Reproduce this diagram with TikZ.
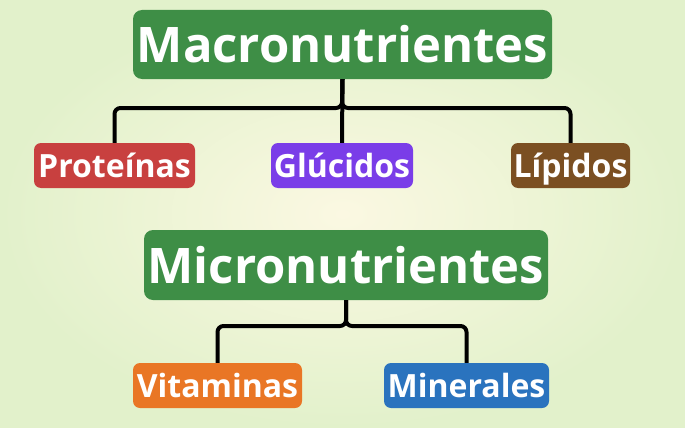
\documentclass[tikz,border=0pt]{standalone}
\usepackage{fontspec}
\setmainfont{Open Sans}
\usetikzlibrary{calc}
\definecolor{boxgreen}{HTML}{3E8E46}
\definecolor{boxred}{HTML}{C8403F}
\definecolor{boxpurple}{HTML}{7A3DE8}
\definecolor{boxbrown}{HTML}{7B4F22}
\definecolor{boxorange}{HTML}{E97625}
\definecolor{boxblue}{HTML}{2A73BE}
\definecolor{bgcenter}{HTML}{FBF8E2}
\definecolor{bgedge}{HTML}{E2F1CB}
\tikzset{
	mainbox/.style={fill=boxgreen, text=white, rounded corners=9pt, inner sep=0pt, text height=36pt, text depth=0pt, font=\bfseries\fontsize{49}{49}\selectfont},
	subbox/.style={text=white, rounded corners=7pt, inner sep=0pt, minimum height=45pt, text height=23pt, text depth=0pt, font=\bfseries\fontsize{32}{32}\selectfont},
	conn/.style={line width=4pt, color=black, rounded corners=6pt}
}

\begin{document}
\begin{tikzpicture}[x=1pt, y=-1pt]
			%%%%% START %%%%%
			
			\shade[inner color=bgcenter, outer color=bgedge] (0, 0) rectangle (685, 428);
			\useasboundingbox (0, 0) rectangle (685, 428);
			
			\node[mainbox, minimum width=419pt, minimum height=69pt] (macro) at (342.5, 44.5) {Macronutrientes};
			\node[subbox, fill=boxred, minimum width=161pt] (prot) at (114.5, 165.5) {Proteínas};
			\node[subbox, fill=boxpurple, minimum width=142pt] (gluc) at (342, 165.5) {Glúcidos};
			\node[subbox, fill=boxbrown, minimum width=119pt] (lip) at (570.5, 165.5) {Lípidos};
			
			\coordinate (macrobus) at (342, 108);
			\draw[conn] (macro.south) -- (macrobus) -| (prot.north);
			\draw[conn] (macro.south) -- (macrobus) -| (lip.north);
			\draw[conn] (macro.south) -- (gluc.north);
			
			\node[mainbox, minimum width=404pt, minimum height=70pt] (micro) at (346, 265) {Micronutrientes};
			\node[subbox, fill=boxorange, minimum width=169pt] (vit) at (217.5, 385.5) {Vitaminas};
			\node[subbox, fill=boxblue, minimum width=165pt] (min) at (466.5, 385.5) {Minerales};
			
			\coordinate (microbus) at (346, 326);
			\draw[conn] (micro.south) -- (microbus) -| (vit.north);
			\draw[conn] (micro.south) -- (microbus) -| (min.north);
			
			%%%%% END %%%%%
\end{tikzpicture}
\end{document}
